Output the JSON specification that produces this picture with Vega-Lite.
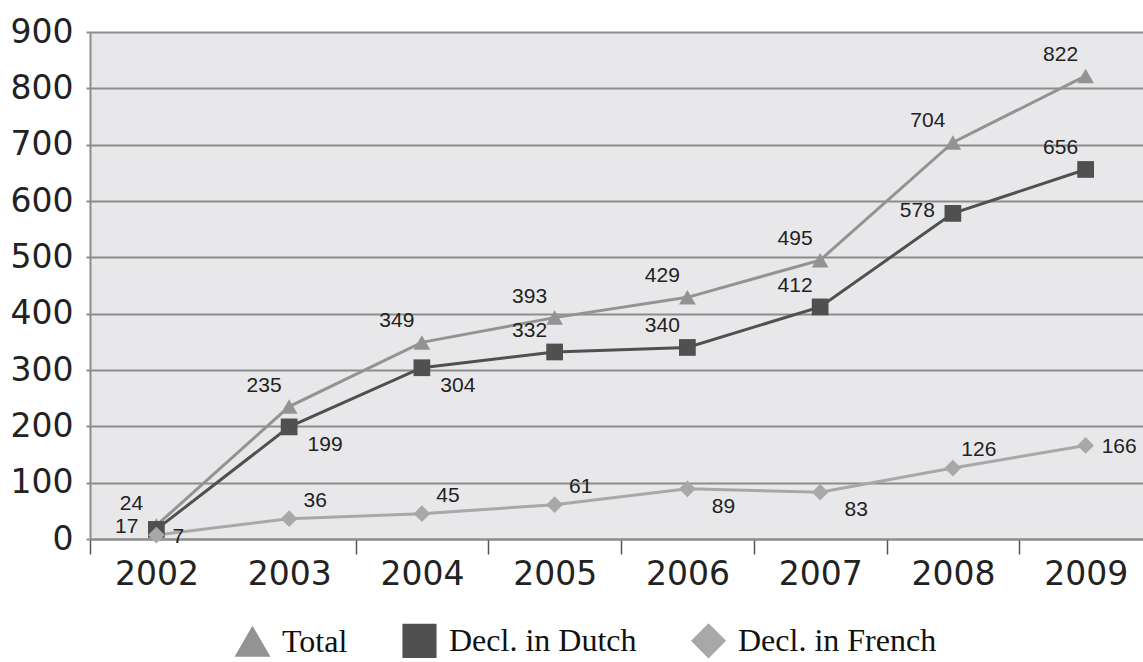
{
  "$schema": "https://vega.github.io/schema/vega-lite/v6.json",
  "autosize": "none",
  "width": 1053,
  "height": 507,
  "padding": {"left": 90, "top": 32, "right": 0, "bottom": 123},
  "background": "white",
  "config": {
    "view": {"fill": "#e8e8ea", "stroke": null},
    "font": "Liberation Sans",
    "legend": {
      "title": null, "orient": "none", "direction": "horizontal",
      "legendX": 145, "legendY": 591, "padding": 0,
      "labelFont": "Liberation Serif", "labelFontSize": 32, "labelColor": "#111", "labelLimit": 500,
      "symbolSize": 1000, "columnPadding": 50, "labelOffset": 12
    }
  },
  "data": {
    "values": [
      {"year": "2002", "series": "Total", "value": 24},
      {"year": "2003", "series": "Total", "value": 235},
      {"year": "2004", "series": "Total", "value": 349},
      {"year": "2005", "series": "Total", "value": 393},
      {"year": "2006", "series": "Total", "value": 429},
      {"year": "2007", "series": "Total", "value": 495},
      {"year": "2008", "series": "Total", "value": 704},
      {"year": "2009", "series": "Total", "value": 822},
      {"year": "2002", "series": "Decl. in Dutch", "value": 17},
      {"year": "2003", "series": "Decl. in Dutch", "value": 199},
      {"year": "2004", "series": "Decl. in Dutch", "value": 304},
      {"year": "2005", "series": "Decl. in Dutch", "value": 332},
      {"year": "2006", "series": "Decl. in Dutch", "value": 340},
      {"year": "2007", "series": "Decl. in Dutch", "value": 412},
      {"year": "2008", "series": "Decl. in Dutch", "value": 578},
      {"year": "2009", "series": "Decl. in Dutch", "value": 656},
      {"year": "2002", "series": "Decl. in French", "value": 7},
      {"year": "2003", "series": "Decl. in French", "value": 36},
      {"year": "2004", "series": "Decl. in French", "value": 45},
      {"year": "2005", "series": "Decl. in French", "value": 61},
      {"year": "2006", "series": "Decl. in French", "value": 89},
      {"year": "2007", "series": "Decl. in French", "value": 83},
      {"year": "2008", "series": "Decl. in French", "value": 126},
      {"year": "2009", "series": "Decl. in French", "value": 166}
    ]
  },
  "encoding": {
    "x": {
      "field": "year", "type": "ordinal",
      "scale": {"type": "band", "paddingInner": 0, "paddingOuter": 0, "range": [0, 1062]},
      "axis": {
        "title": null, "labelAngle": 0, "labelFontSize": 33, "labelColor": "#222",
        "labelPadding": 4, "tickBand": "extent", "ticks": true, "tickSize": 15,
        "tickColor": "#555", "tickWidth": 1.5, "domainColor": "#8c8c8c", "domainWidth": 2,
        "tickOpacity": {"condition": {"test": "datum.value === '2002'", "value": 0}, "value": 1},
        "grid": false, "labelFont": "DejaVu Sans"
      }
    },
    "y": {
      "field": "value", "type": "quantitative",
      "scale": {"domain": [0, 900], "nice": false},
      "axis": {
        "title": null, "values": [0,100,200,300,400,500,600,700,800,900],
        "labelFontSize": 33, "labelColor": "#222", "labelPadding": 13,
        "ticks": true, "tickSize": 4, "tickColor": "#8c8c8c", "tickWidth": 2,
        "domainColor": "#8c8c8c", "domainWidth": 2,
        "grid": true, "gridColor": "#8c8c8c", "gridWidth": 2, "gridOpacity": 1,
        "labelFont": "DejaVu Sans"
      }
    },
    "color": {
      "field": "series", "type": "nominal",
      "scale": {"domain": ["Total", "Decl. in Dutch", "Decl. in French"], "range": ["#939393", "#505050", "#a8a8a8"]},
      "legend": {
        "encode": {
          "symbols": {
            "update": {
              "fill": {"condition": [{"test": "datum.value === 'Total'", "value": "#9a9a9a"}, {"test": "datum.value === 'Decl. in Dutch'", "value": "#000000"}], "value": "#c0c0c0"},
              "stroke": {"value": "#111111"},
              "strokeWidth": {"value": 2.5},
              "opacity": {"value": 1},
              "fillOpacity": {"value": 1}
            }
          }
        }
      }
    }
  },
  "layer": [
    {
      "mark": {"type": "line", "strokeWidth": 3}
    },
    {
      "mark": {"type": "point", "filled": true, "size": 280, "opacity": 1},
      "encoding": {
        "shape": {
          "field": "series", "type": "nominal",
          "scale": {"domain": ["Total", "Decl. in Dutch", "Decl. in French"], "range": ["triangle-up", "square", "diamond"]}
        }
      }
    },
    {
      "transform": [{"filter": "datum.series == 'Total' || (datum.series == 'Decl. in Dutch' && (datum.year == '2005' || datum.year == '2006' || datum.year == '2007' || datum.year == '2009'))"}],
      "mark": {"type": "text", "fontSize": 21, "dx": -25, "dy": -21, "font": "Liberation Sans"},
      "encoding": {"text": {"field": "value", "type": "quantitative"}, "color": {"value": "#222"}}
    },
    {
      "transform": [{"filter": "datum.series == 'Decl. in Dutch' && (datum.year == '2002' || datum.year == '2008')"}],
      "mark": {"type": "text", "fontSize": 21, "dx": -18, "dy": -2, "align": "right", "font": "Liberation Sans"},
      "encoding": {"text": {"field": "value", "type": "quantitative"}, "color": {"value": "#222"}}
    },
    {
      "transform": [{"filter": "(datum.series == 'Decl. in Dutch' && (datum.year == '2003' || datum.year == '2004')) || (datum.series == 'Decl. in French' && (datum.year == '2006' || datum.year == '2007'))"}],
      "mark": {"type": "text", "fontSize": 21, "dx": 36, "dy": 18, "font": "Liberation Sans"},
      "encoding": {"text": {"field": "value", "type": "quantitative"}, "color": {"value": "#222"}}
    },
    {
      "transform": [{"filter": "datum.series == 'Decl. in French' && (datum.year == '2003' || datum.year == '2004' || datum.year == '2005' || datum.year == '2008')"}],
      "mark": {"type": "text", "fontSize": 21, "dx": 26, "dy": -18, "font": "Liberation Sans"},
      "encoding": {"text": {"field": "value", "type": "quantitative"}, "color": {"value": "#222"}}
    },
    {
      "transform": [{"filter": "datum.series == 'Decl. in French' && (datum.year == '2002' || datum.year == '2009')"}],
      "mark": {"type": "text", "fontSize": 21, "dx": 16, "dy": 2, "align": "left", "font": "Liberation Sans"},
      "encoding": {"text": {"field": "value", "type": "quantitative"}, "color": {"value": "#222"}}
    }
  ]
}
